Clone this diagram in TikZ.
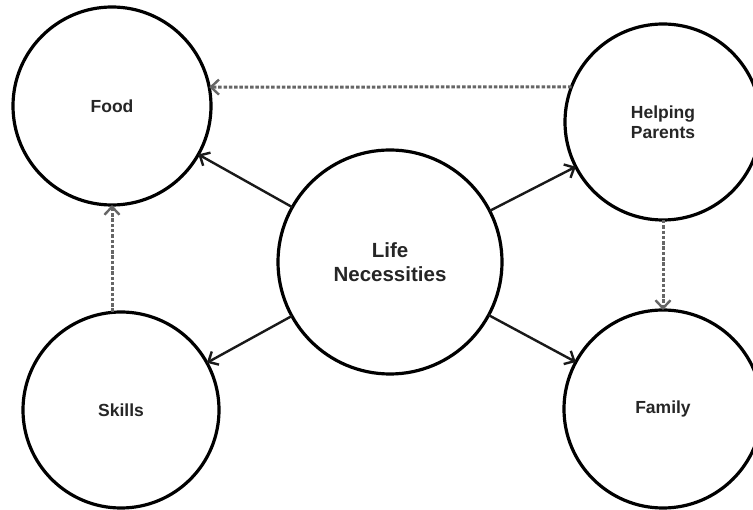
\documentclass[tikz,border=0pt]{standalone}
\usepackage{fontspec}
\setmainfont{Liberation Sans}
\usetikzlibrary{arrows.meta}
\tikzset{
  bubble/.style={circle, draw=black, line width=3.2pt, inner sep=0pt, outer sep=0pt, fill=white,
    font=\bfseries\fontsize{17.5}{20.5}\selectfont, text=black!85, align=center},
  solidlink/.style={line width=2.4pt, draw=black!90, -{Straight Barb[length=8pt,width=15pt,line width=2.4pt]}},
  dashlink/.style={line width=3pt, draw=black!60, dash pattern=on 3.5pt off 1.8pt, -{Straight Barb[length=8pt,width=15pt,line width=2.4pt]}}
}
\begin{document}
\begin{tikzpicture}[x=1pt,y=-1pt]
\useasboundingbox (0,0) rectangle (753,510);
\node[bubble, minimum size=198pt] (food) at (112,106) {Food};
\node[bubble, minimum size=196pt] (hp) at (663,122) {Helping\\Parents};
\node[bubble, minimum size=224pt, font=\bfseries\fontsize{20.5}{24.5}\selectfont] (ln) at (390,262) {Life\\Necessities};
\node[bubble, minimum size=196pt] (skills) at (121,410) {Skills};
\node[bubble, minimum size=198pt] (family) at (663,409) {Family};

\draw[solidlink] (ln) -- (food);
\draw[solidlink] (ln) -- (hp);
\draw[solidlink] (ln) -- (skills);
\draw[solidlink] (ln) -- (family);

\draw[dashlink] (hp.159) -- (food.11);
\draw[dashlink] (food.south |- skills.north) -- (food.south);
\draw[dashlink] (hp.south) -- (family.north);
\end{tikzpicture}
\end{document}
